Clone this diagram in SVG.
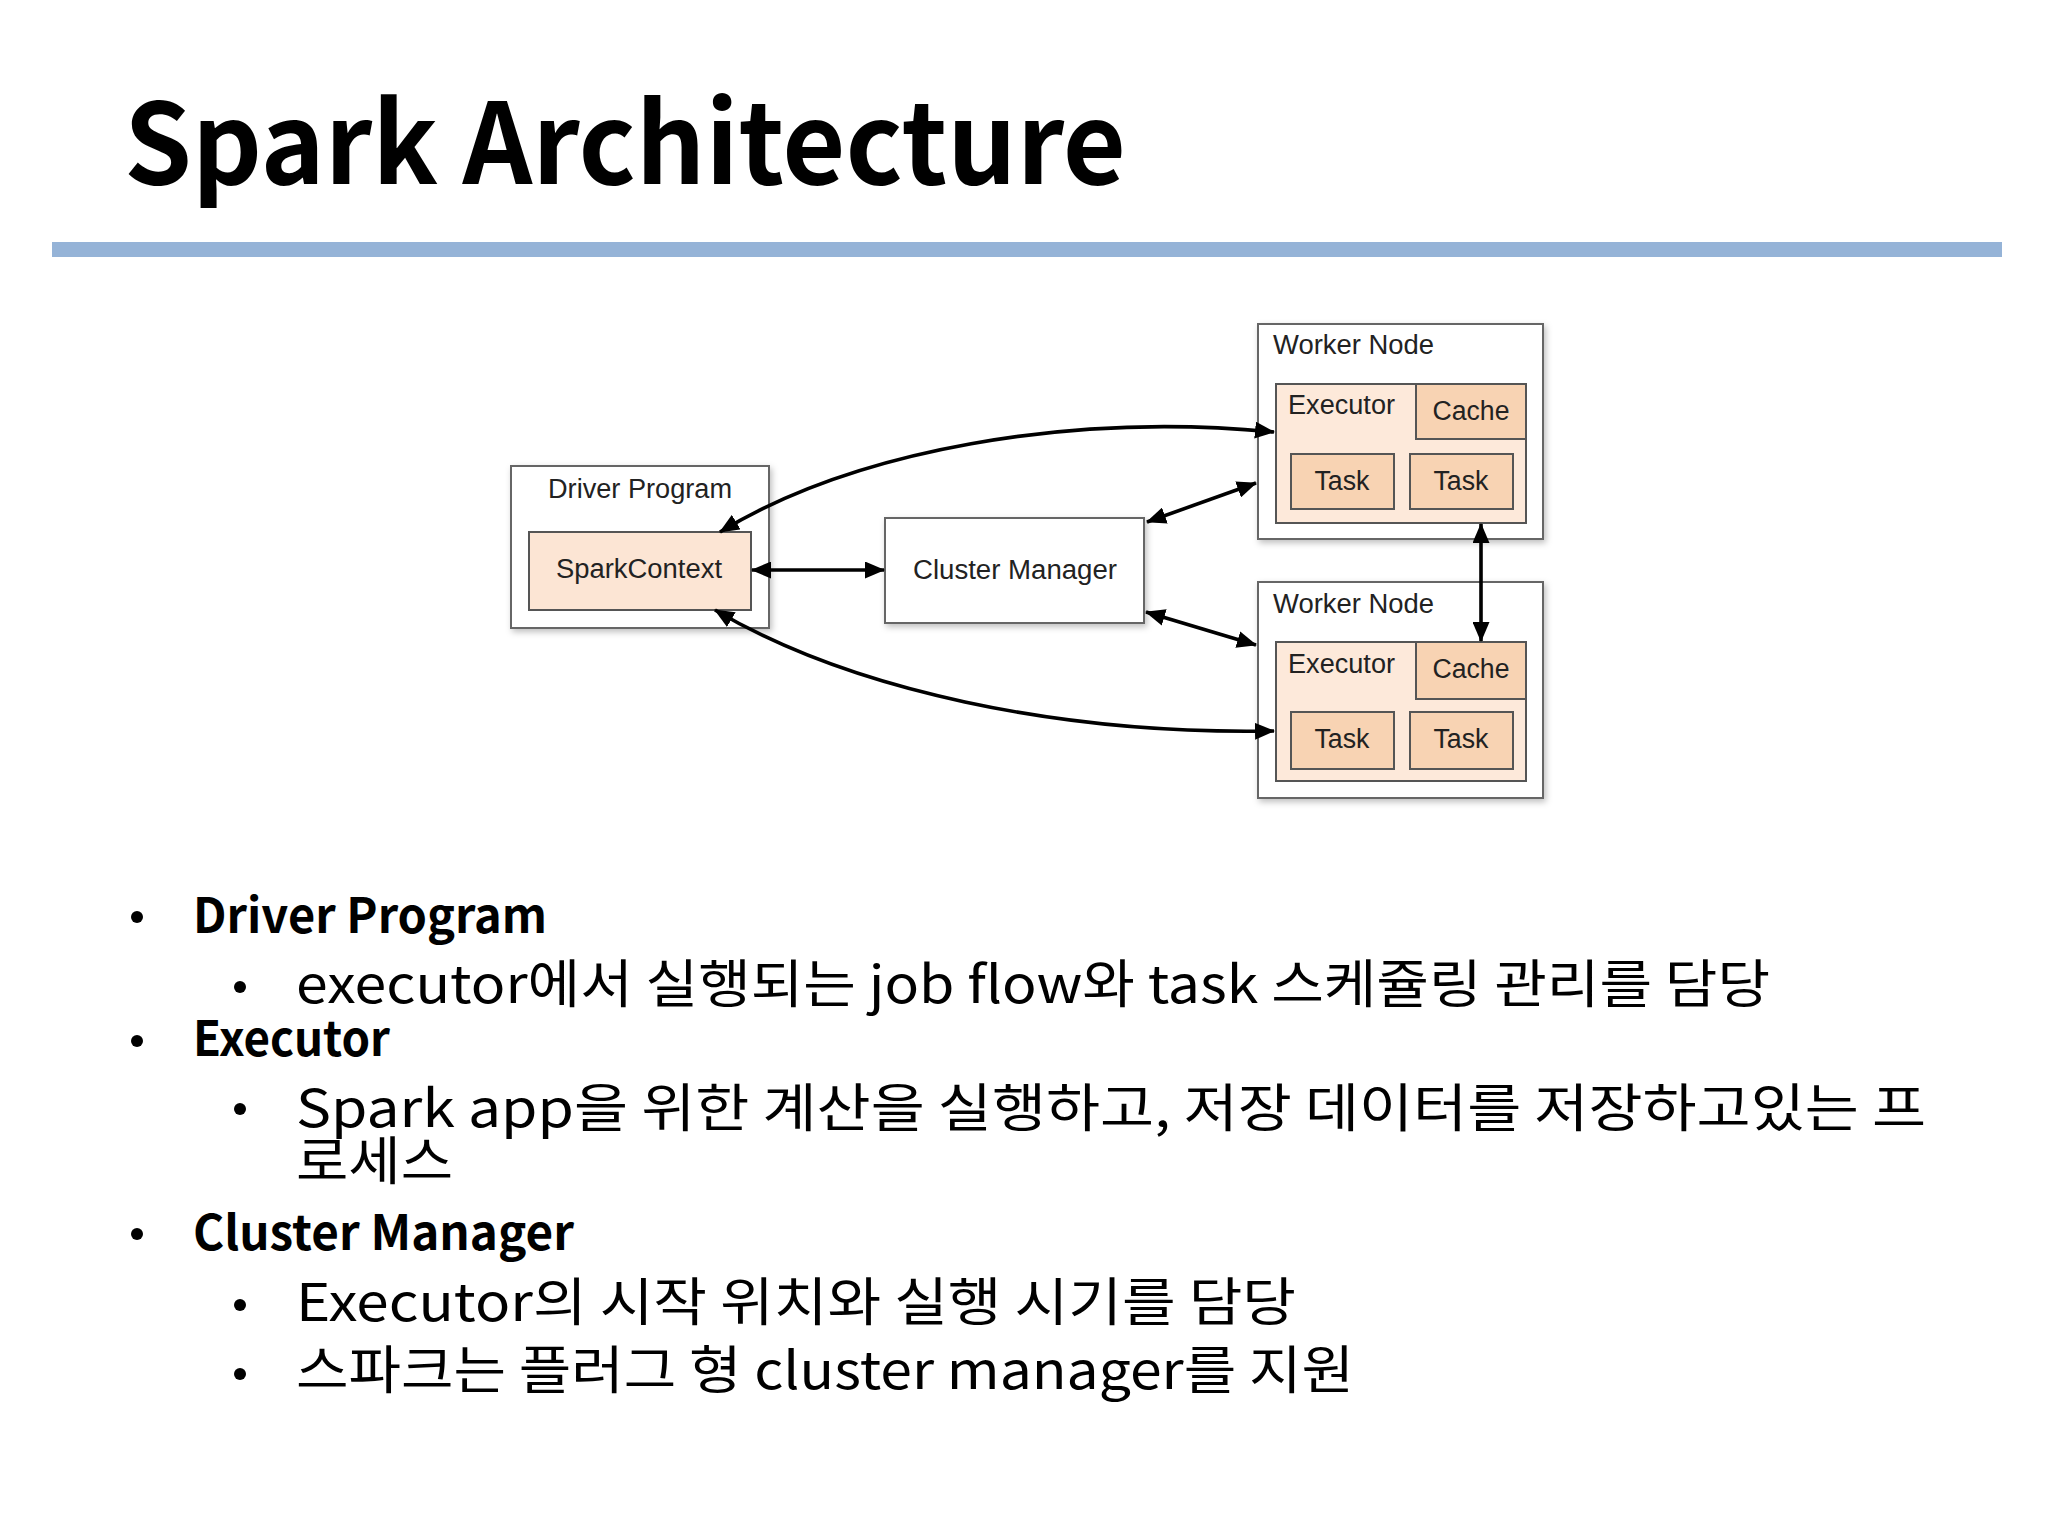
<svg xmlns="http://www.w3.org/2000/svg" width="2048" height="1536" viewBox="0 0 2048 1536">
<defs>
<style>
.title{font-family:"Noto Sans CJK KR","Open Sans",sans-serif;font-weight:bold;font-size:112px;fill:#000}
.l1{font-family:"Noto Sans CJK KR",sans-serif;font-weight:bold;font-size:48px;fill:#000}
.l2{font-family:"Noto Sans CJK KR",sans-serif;font-size:52px;fill:#000}
.lbl{font-family:"Liberation Sans",Arial,sans-serif;font-size:27px;fill:#222}
.outer{fill:#fff;stroke:#666;stroke-width:2}
.exec{fill:#fde9da;stroke:#555;stroke-width:2}
.inner{fill:#f8d3b3;stroke:#555;stroke-width:2}
.sc{fill:#fce5d4;stroke:#555;stroke-width:2}
.conn{fill:none;stroke:#000;stroke-width:3.6}
</style>
<marker id="ah" viewBox="0 0 20 17" markerWidth="20" markerHeight="17" refX="19" refY="8.5" orient="auto-start-reverse" markerUnits="userSpaceOnUse">
<path d="M0,0 L20,8.5 L0,17 z" fill="#000"/>
</marker>
<filter id="sh" x="-10%" y="-10%" width="125%" height="130%">
<feDropShadow dx="2" dy="3" stdDeviation="3" flood-color="#000" flood-opacity="0.25"/>
</filter>
</defs>
<rect width="2048" height="1536" fill="#fff"/>

<g id="header">
<text class="title" x="124" y="184" textLength="1002" lengthAdjust="spacingAndGlyphs">Spark Architecture</text>
<rect x="52" y="242" width="1950" height="15" fill="#95b3d7"/>
</g>

<g id="driver-program">
<rect class="outer" x="511" y="466" width="258" height="162" filter="url(#sh)"/>
<text class="lbl" x="640" y="498" text-anchor="middle" textLength="184" lengthAdjust="spacingAndGlyphs">Driver Program</text>
<g id="spark-context">
<rect class="sc" x="529" y="532" width="222" height="78"/>
<text class="lbl" x="639" y="578" text-anchor="middle" textLength="166" lengthAdjust="spacingAndGlyphs">SparkContext</text>
</g>
</g>

<g id="cluster-manager">
<rect class="outer" x="885" y="518" width="259" height="105" filter="url(#sh)"/>
<text class="lbl" x="1015" y="579" text-anchor="middle" textLength="204" lengthAdjust="spacingAndGlyphs">Cluster Manager</text>
</g>

<g id="worker-node-1">
<rect class="outer" x="1258" y="324" width="285" height="215" filter="url(#sh)"/>
<text class="lbl" x="1273" y="354" textLength="161" lengthAdjust="spacingAndGlyphs">Worker Node</text>
<g id="executor-1">
<rect class="exec" x="1276" y="384" width="250" height="139"/>
<text class="lbl" x="1288" y="414" textLength="107" lengthAdjust="spacingAndGlyphs">Executor</text>
<rect class="inner" x="1416" y="384" width="110" height="55"/>
<text class="lbl" x="1471" y="420" text-anchor="middle" textLength="77" lengthAdjust="spacingAndGlyphs">Cache</text>
<rect class="inner" x="1291" y="454" width="103" height="55"/>
<text class="lbl" x="1342" y="490" text-anchor="middle" textLength="55" lengthAdjust="spacingAndGlyphs">Task</text>
<rect class="inner" x="1410" y="454" width="103" height="55"/>
<text class="lbl" x="1461" y="490" text-anchor="middle" textLength="55" lengthAdjust="spacingAndGlyphs">Task</text>
</g>
</g>

<g id="worker-node-2">
<rect class="outer" x="1258" y="582" width="285" height="216" filter="url(#sh)"/>
<text class="lbl" x="1273" y="613" textLength="161" lengthAdjust="spacingAndGlyphs">Worker Node</text>
<g id="executor-2">
<rect class="exec" x="1276" y="642" width="250" height="139"/>
<text class="lbl" x="1288" y="673" textLength="107" lengthAdjust="spacingAndGlyphs">Executor</text>
<rect class="inner" x="1416" y="642" width="110" height="57"/>
<text class="lbl" x="1471" y="678" text-anchor="middle" textLength="77" lengthAdjust="spacingAndGlyphs">Cache</text>
<rect class="inner" x="1291" y="712" width="103" height="57"/>
<text class="lbl" x="1342" y="748" text-anchor="middle" textLength="55" lengthAdjust="spacingAndGlyphs">Task</text>
<rect class="inner" x="1410" y="712" width="103" height="57"/>
<text class="lbl" x="1461" y="748" text-anchor="middle" textLength="55" lengthAdjust="spacingAndGlyphs">Task</text>
</g>
</g>

<g id="connectors">
<line class="conn" x1="752" y1="570" x2="884" y2="570" marker-start="url(#ah)" marker-end="url(#ah)"/>
<path class="conn" d="M720,532 C855,450 1070,412 1274,432" marker-start="url(#ah)" marker-end="url(#ah)"/>
<path class="conn" d="M715,610 C850,690 1060,735 1274,731" marker-start="url(#ah)" marker-end="url(#ah)"/>
<line class="conn" x1="1147" y1="522" x2="1256" y2="483" marker-start="url(#ah)" marker-end="url(#ah)"/>
<line class="conn" x1="1146" y1="612" x2="1256" y2="645" marker-start="url(#ah)" marker-end="url(#ah)"/>
<line class="conn" x1="1481" y1="524" x2="1481" y2="641" marker-start="url(#ah)" marker-end="url(#ah)"/>
</g>

<g id="bullets">
<circle cx="137" cy="917" r="6"/>
<text class="l1" x="193" y="933" textLength="354" lengthAdjust="spacingAndGlyphs">Driver Program</text>
<circle cx="240" cy="987" r="6"/>
<text class="l2" x="296" y="1003" textLength="1474" lengthAdjust="spacingAndGlyphs">executor에서 실행되는 job flow와 task 스케쥴링 관리를 담당</text>
<circle cx="137" cy="1041" r="6"/>
<text class="l1" x="193" y="1056" textLength="197" lengthAdjust="spacingAndGlyphs">Executor</text>
<circle cx="240" cy="1109" r="6"/>
<text class="l2" x="296" y="1127" textLength="1630" lengthAdjust="spacingAndGlyphs">Spark app을 위한 계산을 실행하고, 저장 데이터를 저장하고있는 프</text>
<text class="l2" x="296" y="1180" textLength="157" lengthAdjust="spacingAndGlyphs">로세스</text>
<circle cx="137" cy="1234" r="6"/>
<text class="l1" x="193" y="1250" textLength="381" lengthAdjust="spacingAndGlyphs">Cluster Manager</text>
<circle cx="240" cy="1305" r="6"/>
<text class="l2" x="296" y="1321" textLength="1000" lengthAdjust="spacingAndGlyphs">Executor의 시작 위치와 실행 시기를 담당</text>
<circle cx="240" cy="1374" r="6"/>
<text class="l2" x="296" y="1389" textLength="1058" lengthAdjust="spacingAndGlyphs">스파크는 플러그 형 cluster manager를 지원</text>
</g>
</svg>
